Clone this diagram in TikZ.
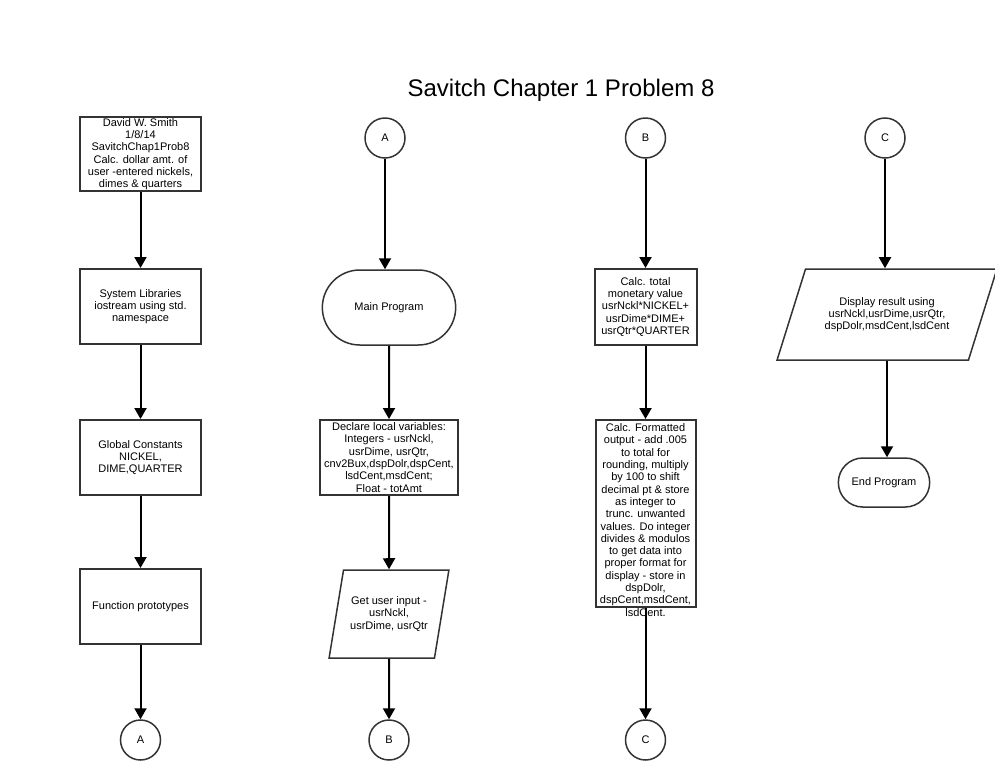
\documentclass[tikz,border=0pt]{standalone}
\usepackage{fontspec}
\setmainfont{Liberation Sans}
\usepackage{tikz}
\usetikzlibrary{shapes.geometric,shapes.misc,arrows.meta}
\tikzset{every node/.style={font=\fontsize{11}{12.3}\selectfont,align=center}}
\tikzset{procbox/.style={draw=black!80,line width=2pt,minimum width=121pt,minimum height=75pt,inner xsep=1pt,inner ysep=1pt}}
\tikzset{termbox/.style={draw=black!80,line width=1.5pt,rounded rectangle,minimum width=140pt,minimum height=75pt}}
\tikzset{iobox/.style={draw=black!80,line width=1.5pt,trapezium,trapezium stretches=true,inner sep=1pt}}
\tikzset{connector/.style={draw=black!80,line width=1.5pt,circle,minimum size=40pt,inner sep=0pt}}
\tikzset{flow/.style={line width=2pt,-{Triangle[length=11pt,width=12pt]}}}

\begin{document}
\begin{tikzpicture}[x=1pt,y=-1pt]
\useasboundingbox (0,0) rectangle (995,780);

\node[font=\fontsize{24}{28}\selectfont] (title) at (561,90) {Savitch Chapter 1 Problem 8};

% column 1
\node[procbox,minimum height=74pt] (info) at (140.5,154) {David W. Smith\\1/8/14\\SavitchChap1Prob8\\Calc. dollar amt. of\\user -entered nickels,\\dimes \& quarters};
\node[procbox] (libs) at (140.5,306.5) {System Libraries\\iostream using std.\\namespace};
\node[procbox] (consts) at (140.5,457.5) {Global Constants\\NICKEL,\\DIME,QUARTER};
\node[procbox] (protos) at (140.5,606.5) {Function prototypes};
\node[connector] (outA) at (140.5,740) {A};

% column 2
\node[connector] (inA) at (385,138) {A};
\node[termbox] (main) at (389,307.5) {Main Program};
\node[procbox,minimum width=138pt] (decl) at (389,457.5) {Declare local variables:\\Integers - usrNckl,\\usrDime, usrQtr,\\cnv2Bux,dspDolr,dspCent,\\lsdCent,msdCent;\\Float - totAmt};
\node[iobox,trapezium left angle=71,trapezium right angle=109,minimum width=120pt,minimum height=88pt] (input) at (389,614) {Get user input -\\usrNckl,\\usrDime, usrQtr};
\node[connector] (outB) at (389,740) {B};

% column 3
\node[connector] (inB) at (645.5,138) {B};
\node[procbox,minimum width=102pt,minimum height=76pt] (total) at (645.5,307) {Calc. total\\monetary value\\usrNckl*NICKEL+\\usrDime*DIME+\\usrQtr*QUARTER};
\node[procbox,minimum width=100pt,minimum height=187pt] (fmt) at (645.5,513.5) {};
\node (fmttext) at (645.5,520) {Calc. Formatted\\output - add .005\\to total for\\rounding, multiply\\by 100 to shift\\decimal pt \& store\\as integer to\\trunc. unwanted\\values. Do integer\\divides \& modulos\\to get data into\\proper format for\\display - store in\\dspDolr,\\dspCent,msdCent,\\lsdCent.};
\node[connector] (outC) at (645.5,740) {C};

% column 4
\node[connector] (inC) at (885,138) {C};
\node[iobox,trapezium left angle=59,trapezium right angle=121,minimum width=220pt,minimum height=91pt] (disp) at (887,314.5) {Display result using\\usrNckl,usrDime,usrQtr,\\dspDolr,msdCent,lsdCent};
\node[termbox,minimum width=98pt,minimum height=49pt] (endp) at (884,482.5) {End Program};

\draw[flow] (info) -- (libs);
\draw[flow] (libs) -- (consts);
\draw[flow] (consts) -- (protos);
\draw[flow] (protos) -- (outA);

\draw[flow] (inA.south) -- (inA.south |- main.north);
\draw[flow] (main) -- (decl);
\draw[flow] (decl) -- (input);
\draw[flow] (input) -- (outB);

\draw[flow] (inB) -- (total);
\draw[flow] (total) -- (fmt);
\draw[flow] (fmt) -- (outC);

\draw[flow] (inC.south) -- (inC.south |- disp.north);
\draw[flow] (disp.south) -- (disp.south |- endp.north);
\end{tikzpicture}
\end{document}
